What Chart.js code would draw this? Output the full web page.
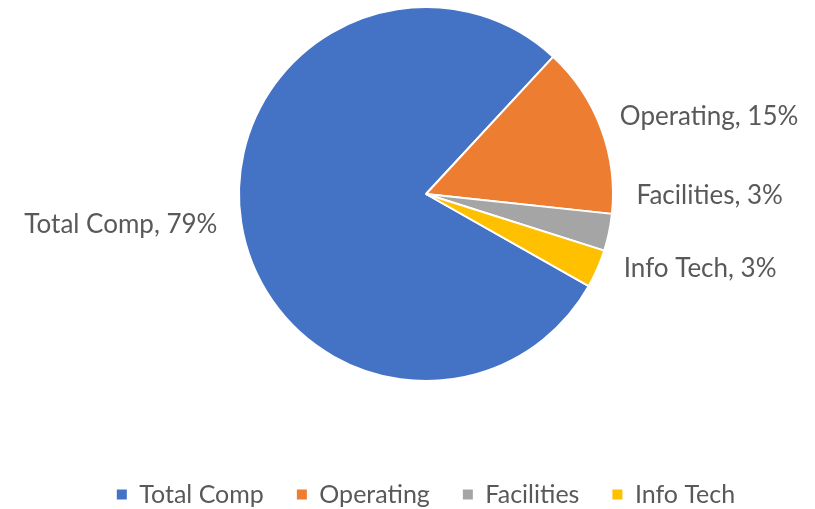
<!DOCTYPE html>
<html>
<head>
<meta charset="utf-8">
<script src="https://cdn.jsdelivr.net/npm/chart.js@4/dist/chart.umd.min.js"></script>
<style>
  body { margin: 0; background: #fff; }
  #grafico { display: block; }
</style>
</head>
<body>
<canvas id="grafico" width="815" height="509"></canvas>
<script>
const categorias = ['Total Comp', 'Operating', 'Facilities', 'Info Tech'];
const valores = [78.7, 14.8, 3.2, 3.3];
const colores = ['#4472C4', '#ED7D31', '#A5A5A5', '#FFC000'];

Chart.defaults.font.family = 'Lato';
Chart.defaults.color = '#595959';

// etiquetas "Categoria, xx%" por fuera del pastel
const etiquetasPlugin = {
    id: 'etiquetas',
    afterDraw(chart, args, opts) {
        const ctx = chart.ctx;
        const meta = chart.getDatasetMeta(0);
        const total = valores.reduce((a, b) => a + b, 0);
        ctx.save();
        ctx.font = '26px Lato';
        ctx.fillStyle = '#595959';
        ctx.textBaseline = 'middle';
        meta.data.forEach((arco, i) => {
            const p = arco.getProps(['x', 'y', 'startAngle', 'endAngle', 'outerRadius'], true);
            const medio = (p.startAngle + p.endAngle) / 2;
            const r = p.outerRadius + opts.distancia;
            const ajuste = opts.ajustes[i] || [0, 0];
            const x = p.x + Math.cos(medio) * r + ajuste[0];
            const y = p.y + Math.sin(medio) * r + ajuste[1];
            ctx.textAlign = Math.cos(medio) >= 0 ? 'left' : 'right';
            const pct = Math.round(valores[i] / total * 100);
            ctx.fillText(`${categorias[i]}, ${pct}%`, x, y);
        });
        ctx.restore();
    }
};

const generarEtiquetas = Chart.overrides.pie.plugins.legend.labels.generateLabels;

const ctx = document.getElementById('grafico').getContext('2d');

const myChart = new Chart(ctx, {
    type: 'pie',
    data: {
        labels: categorias,
        datasets: [{
            data: valores,
            backgroundColor: colores,
            borderColor: '#ffffff',
            borderWidth: 2
        }]
    },
    options: {
        responsive: false,
        animation: false,
        rotation: 119.5,
        radius: 187,
        layout: {
            padding: { top: 0, bottom: -8, left: 37, right: 0 }
        },
        plugins: {
            tooltip: { enabled: false },
            legend: {
                position: 'bottom',
                title: {
                    display: true,
                    text: '',
                    font: { size: 10 },
                    padding: { top: 49, bottom: 0 }
                },
                labels: {
                    boxWidth: 10,
                    boxHeight: 10,
                    padding: 33,
                    font: { size: 25 },
                    color: '#595959',
                    generateLabels: (chart) => generarEtiquetas(chart).map(item => ({ ...item, lineWidth: 0 }))
                }
            },
            etiquetas: {
                distancia: 20,
                ajustes: [[-4, -1], [0, -5], [8, -41], [8, -8]]
            }
        }
    },
    plugins: [etiquetasPlugin]
});
</script>
</body>
</html>
